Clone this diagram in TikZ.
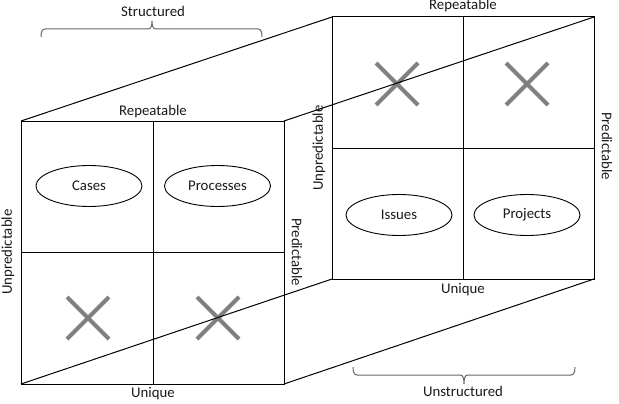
\documentclass[tikz,border=0pt]{standalone}
\usepackage{fontspec}
\setmainfont{Carlito}
\usetikzlibrary{shapes.geometric,shapes.misc}
\begin{document}
\begin{tikzpicture}[x=1pt,y=-1pt,
  edge/.style={draw=black,line width=1pt},
  lbl/.style={font=\fontsize{14.8}{17}\selectfont, inner sep=0pt, text=black!90},
  oval/.style={ellipse, draw=black, line width=0.9pt, minimum width=106pt, minimum height=41pt, inner sep=0pt, font=\fontsize{14.8}{17}\selectfont, text=black!90},
  xmark/.style={cross out, draw=black!50, line width=4pt, minimum size=38pt, inner sep=0pt},
  bracket/.style={draw=black!60, line width=1pt}]
\useasboundingbox (0,0) rectangle (619,404);
% corners of front square
\coordinate (FTL) at (21,121);
\coordinate (FTR) at (284,121);
\coordinate (FBL) at (21,384);
\coordinate (FBR) at (284,384);
\coordinate (FTM) at (153,121);
\coordinate (FBM) at (153,384);
\coordinate (FML) at (21,252);
\coordinate (FMR) at (284,252);
% corners of back square
\coordinate (BTL) at (332,17);
\coordinate (BTR) at (594,17);
\coordinate (BBL) at (332,279);
\coordinate (BBR) at (594,279);
\coordinate (BTM) at (463,17);
\coordinate (BBM) at (463,279);
\coordinate (BML) at (332,148);
\coordinate (BMR) at (594,148);
% crosses
\node[xmark] (x1) at (88,318) {};
\node[xmark] (x2) at (218,318) {};
\node[xmark] (x3) at (397,84) {};
\node[xmark] (x4) at (527,84) {};
% squares
\draw[edge] (FTL) rectangle (FBR);
\draw[edge] (FTM) -- (FBM);
\draw[edge] (FML) -- (FMR);
\draw[edge] (BTL) rectangle (BBR);
\draw[edge] (BTM) -- (BBM);
\draw[edge] (BML) -- (BMR);
% depth lines
\draw[edge] (FTL) -- (BTL);
\draw[edge] (FTR) -- (BTR);
\draw[edge] (FBL) -- (BBL);
\draw[edge] (FBR) -- (BBR);
% ovals
\node[oval] (cases) at (89,186) {Cases};
\node[oval] (proc) at (217.5,186) {Processes};
\node[oval] (issues) at (399,215) {Issues};
\node[oval] (proj) at (527,215) {Projects};
% axis labels
\node[lbl] (rep1) at (153,112) {Repeatable};
\node[lbl] (uni1) at (153,394) {Unique};
\node[lbl, rotate=90] (unp1) at (8,252) {Unpredictable};
\node[lbl, rotate=-90] (pre1) at (297,252) {Predictable};
\node[lbl] (rep2) at (463,6) {Repeatable};
\node[lbl] (uni2) at (463,290) {Unique};
\node[lbl, rotate=90] (unp2) at (319,148) {Unpredictable};
\node[lbl, rotate=-90] (pre2) at (607,146) {Predictable};
% braces
\coordinate (s1) at (41,37);
\coordinate (s2) at (262,37);
\coordinate (sm) at (152,21);
\draw[bracket] (s1) to[out=90,in=180] (45,29) -- (148,29) to[out=0,in=-90] (sm)
  to[out=-90,in=180] (156,29) -- (258,29) to[out=0,in=90] (s2);
\node[lbl] (struct) at (153,11) {Structured};
\coordinate (u1) at (353,367);
\coordinate (u2) at (575,367);
\coordinate (um) at (464,384);
\draw[bracket] (u1) to[out=-90,in=180] (357,375) -- (460,375) to[out=0,in=90] (um)
  to[out=90,in=180] (468,375) -- (571,375) to[out=0,in=-90] (u2);
\node[lbl] (unstruct) at (463,391) {Unstructured};
\end{tikzpicture}
\end{document}
